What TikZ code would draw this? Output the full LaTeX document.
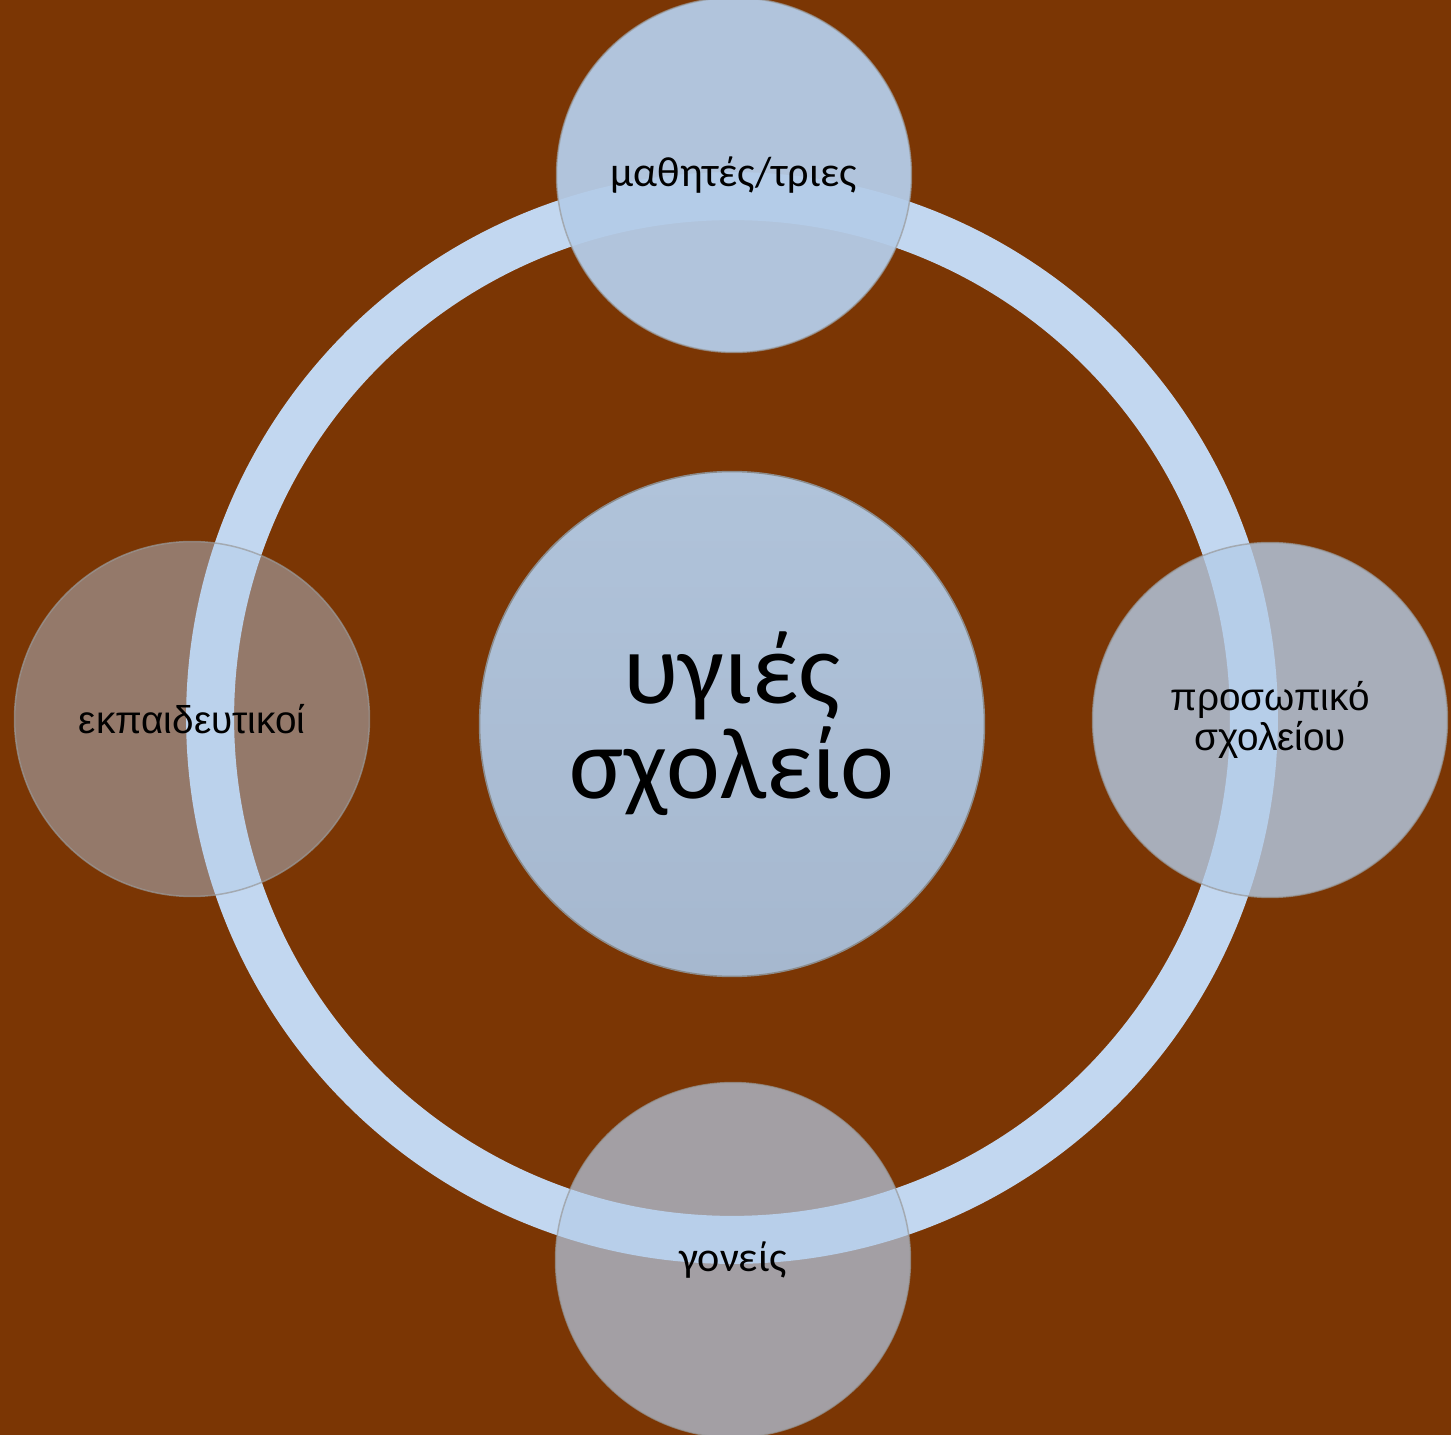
\documentclass[tikz,border=0pt]{standalone}
\usepackage{fontspec}
\setmainfont{Carlito}
\newfontfamily\arialfont{Liberation Sans}

\definecolor{brownbg}{RGB}{123,54,4}
\definecolor{ringblue}{RGB}{194,215,240}
\definecolor{hubtop}{RGB}{176,195,218}
\definecolor{hubbottom}{RGB}{166,184,207}
\definecolor{memberblue}{RGB}{180,204,232}

\begin{document}
\begin{tikzpicture}[x=0.02cm,y=-0.02cm,
    hub/.style={circle, draw=black!45, line width=0.03cm,
      top color=hubtop, bottom color=hubbottom,
      minimum size=10.1cm, inner sep=0pt, align=center,
      font=\fontsize{58}{54}\selectfont},
    member/.style={circle, draw=black!40, draw opacity=0.7, line width=0.03cm,
      fill=memberblue, text opacity=1, minimum size=7.1cm, inner sep=0pt,
      align=center, font=\fontsize{24}{24}\selectfont},
    plain/.style={font=\arialfont\fontsize{22}{23}\selectfont}]

  \useasboundingbox (0,0) rectangle (1451,1435);
  \fill[brownbg] (-10,-10) rectangle (1461,1445);
  \coordinate (middle) at (732,718);

  % the cycle behind the members
  \draw[ringblue, line width=0.96cm] (middle) circle [radius=10.44cm];

  \node[hub] (school) at (732,724) {υγιές\\σχολείο};

  \node[member, fill opacity=0.95] (pupils)  at (734,175)  {μαθητές/τριες};
  \node[member, plain, fill opacity=0.8] (staff) at (1270,720) {προσωπικό\\σχολείου};
  \node[member, fill opacity=0.7] (parents) at (733,1260) {γονείς};
  \node[member, plain, fill opacity=0.45] (teachers) at (192,719) {εκπαιδευτικοί};

\end{tikzpicture}
\end{document}
